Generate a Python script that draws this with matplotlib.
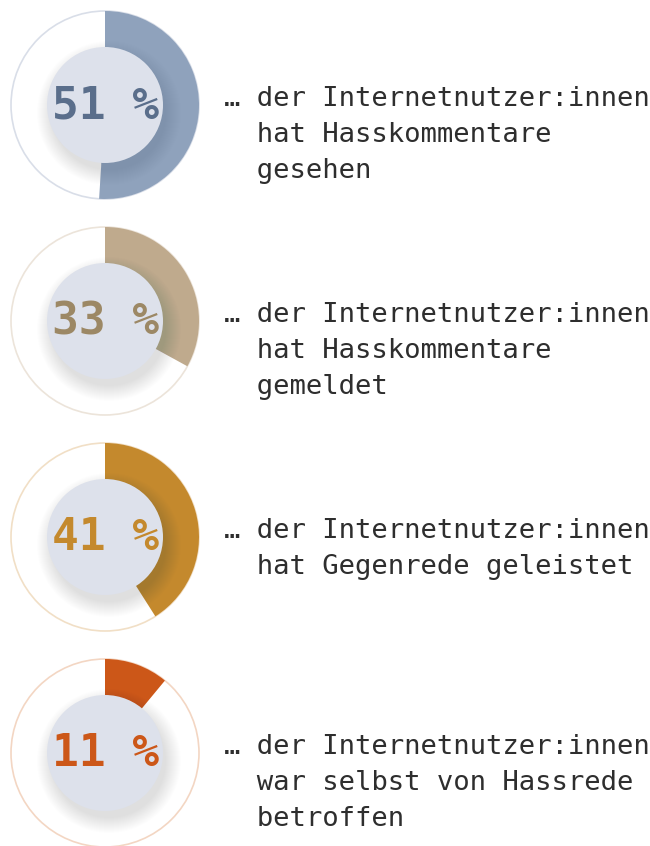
import matplotlib
matplotlib.use("Agg")
import matplotlib.pyplot as plt
from matplotlib.patches import Wedge, Circle

percent = [51, 33, 41, 11]
labels = ["51 %", "33 %", "41 %", "11 %"]
texts = [
    "… der Internetnutzer:innen\n  hat Hasskommentare\n  gesehen",
    "… der Internetnutzer:innen\n  hat Hasskommentare\n  gemeldet",
    "… der Internetnutzer:innen\n  hat Gegenrede geleistet",
    "… der Internetnutzer:innen\n  war selbst von Hassrede\n  betroffen",
]
seg_colors = ["#8fa2bc", "#bfaa8d", "#c4892d", "#cc5718"]
num_colors = ["#5a6e8b", "#9c8865", "#c4892d", "#cc5718"]
ring_colors = ["#d9dee8", "#ece4da", "#f1dfc6", "#f3d6c3"]
inner_color = "#dde1eb"

W, H = 650, 846
fig = plt.figure(figsize=(W / 100, H / 100), dpi=100)
ax = fig.add_axes([0, 0, 1, 1])
ax.set_xlim(0, W)
ax.set_ylim(0, H)
ax.set_aspect("equal")
ax.axis("off")

cx = 105
R_out = 94
R_in = 58
step = 216
first = 105

for i, p in enumerate(percent):
    cy = H - (first + i * step)
    ax.add_patch(Circle((cx, cy), R_out, facecolor="white",
                        edgecolor=ring_colors[i], lw=1.2, zorder=1))
    ax.add_patch(Wedge((cx, cy), R_out, 90 - 360 * p / 100, 90,
                       facecolor=seg_colors[i], edgecolor="none", zorder=2))
    # soft shadow
    for k in range(16):
        ax.add_patch(Circle((cx + 4, cy - 8), R_in + 14 - k,
                            facecolor="#1e2a40", alpha=0.008, lw=0, zorder=3))
    ax.add_patch(Circle((cx, cy), R_in, facecolor=inner_color,
                        edgecolor="none", zorder=4))
    ax.text(cx + 1, cy - 1, labels[i], ha="center", va="center",
            fontsize=32, fontweight="bold", family="DejaVu Sans Mono",
            color=num_colors[i], zorder=5)
    ax.text(224, cy + 19, texts[i], ha="left", va="top",
            fontsize=19.6, family="DejaVu Sans Mono", color="#2e2e2e",
            linespacing=1.5, zorder=5)

fig.savefig("out.png", dpi=100)
